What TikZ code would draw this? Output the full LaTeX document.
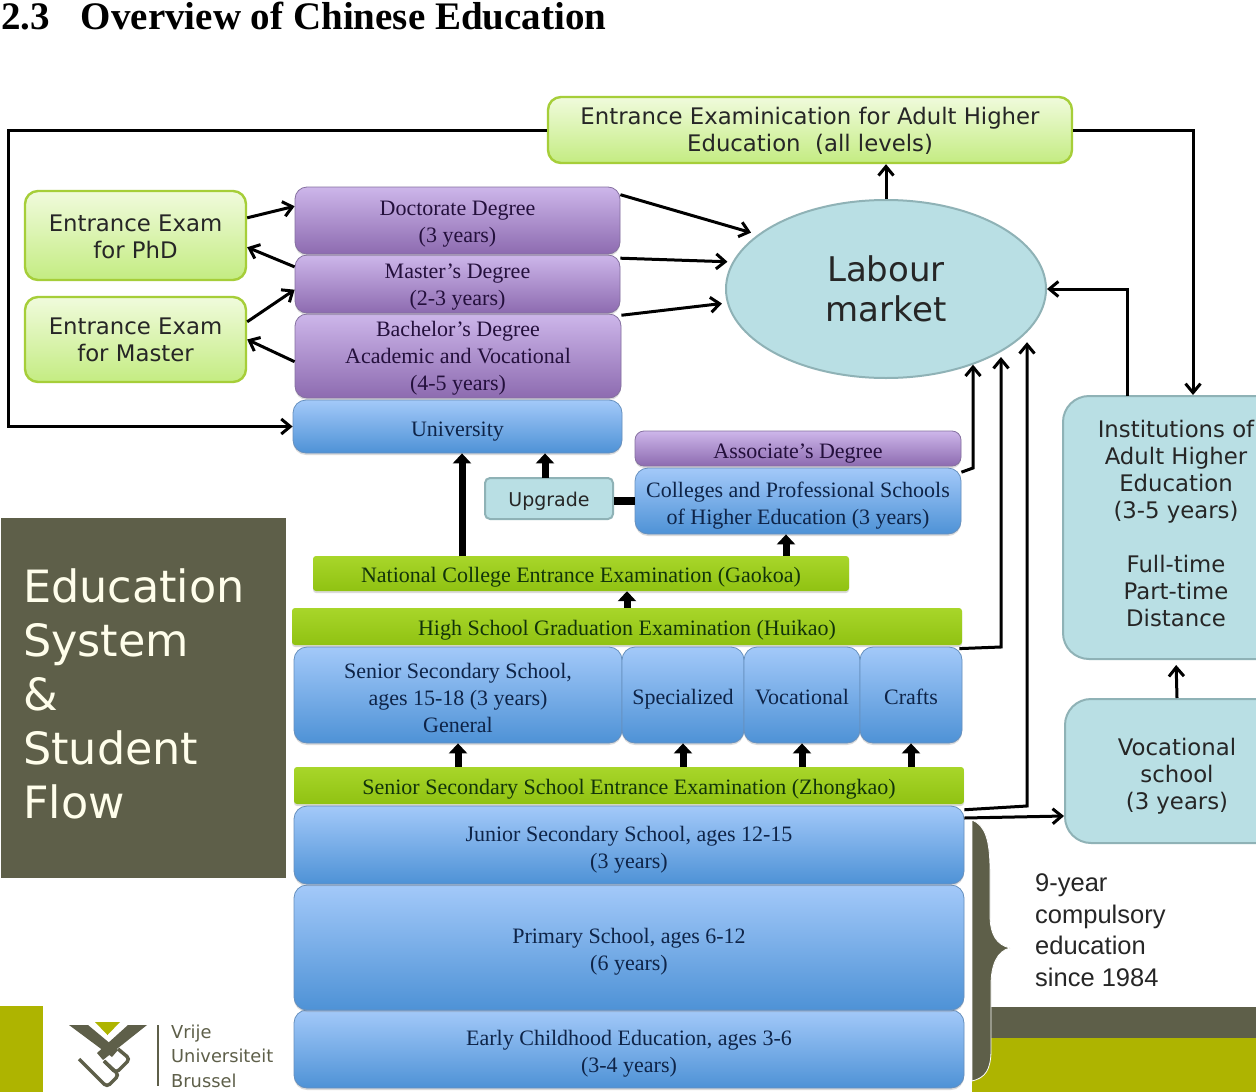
\documentclass[tikz,border=0pt]{standalone}
\usepackage{fontspec}
\setmainfont{Liberation Serif}
\newfontfamily\boxfont{DejaVu Sans}
\newfontfamily\notefont{Liberation Sans}
\usetikzlibrary{arrows.meta, positioning, shapes.geometric, shadows, calc}
\definecolor{panelgrey}{HTML}{5E5F49}
\definecolor{vuolive}{HTML}{AEB400}
\definecolor{tealfill}{HTML}{B9DFE4}
\definecolor{tealline}{HTML}{8FB2B6}
\definecolor{navytext}{HTML}{0E2448}
\definecolor{plumtext}{HTML}{24103C}
\definecolor{leaftext}{HTML}{12340A}
\definecolor{bluetop}{HTML}{A3C9F9}
\definecolor{bluebottom}{HTML}{4E92D6}
\definecolor{blueedge}{HTML}{6690BE}
\definecolor{plumtop}{HTML}{CDB6EA}
\definecolor{plumbottom}{HTML}{8D6BB0}
\definecolor{plumedge}{HTML}{8570A0}
\definecolor{leaftop}{HTML}{A8D62A}
\definecolor{leafbottom}{HTML}{90C212}
\definecolor{examtop}{HTML}{F0FBDC}
\definecolor{exambottom}{HTML}{C4EC82}
\definecolor{examedge}{HTML}{A6CE39}
\def\textrise{0pt}
\newcommand\linedrop{\rule{0pt}{\textrise}}
\tikzset{
  textrise/.code={\def\textrise{#1pt}},
  sized/.style 2 args={minimum width=#1pt,minimum height=#2pt,inner sep=0pt,align=center},
  softshadow/.style={drop shadow={opacity=.28,shadow xshift=0pt,shadow yshift=-2pt}},
  bluebox/.style={rectangle,rounded corners=13pt,draw=blueedge,line width=.8pt,top color=bluetop,bottom color=bluebottom,
    text=navytext,softshadow,textrise=24,font=\fontsize{22}{27}\selectfont},
  purplebox/.style={rectangle,rounded corners=12pt,draw=plumedge,line width=.8pt,top color=plumtop,bottom color=plumbottom,
    text=plumtext,softshadow,textrise=20,font=\fontsize{22}{27}\selectfont},
  leafbar/.style={rectangle,rounded corners=3pt,draw=none,top color=leaftop,bottom color=leafbottom,
    text=leaftext,softshadow,textrise=23,font=\fontsize{22}{27}\selectfont},
  exambox/.style={rectangle,rounded corners=13pt,draw=examedge,line width=2.4pt,top color=examtop,bottom color=exambottom,
    text=black!85,font=\boxfont\fontsize{22.8}{27}\selectfont},
  tealbox/.style={rectangle,rounded corners=#1,draw=tealline,line width=2pt,fill=tealfill,
    text=black!85,font=\boxfont\fontsize{22.8}{27}\selectfont},
  tealbox/.default=26pt,
  line/.style={line width=3pt,-{Straight Barb[length=9pt,width=15pt]}},
  blockarrow/.style={line width=7pt,-{Triangle[length=10pt,width=18pt]}}
}
\begin{document}
\begin{tikzpicture}[x=1pt,y=-1pt]
\path[use as bounding box,clip] (0,0) rectangle (1256,1092);
\fill[white] (0,0) rectangle (1256,1092);
\node[anchor=base west,inner sep=0pt,font=\bfseries\fontsize{39}{42}\selectfont] (title) at (1,29) {2.3\hspace{31pt}Overview of Chinese Education};
\fill[vuolive] (0,1006) rectangle (43,1092);
\fill[panelgrey] (990,1007) rectangle (1256,1038);
\fill[vuolive] (972,1038) rectangle (1256,1092);
\node[rectangle,fill=panelgrey,sized={285}{360}] (panel) at (143.5,698) {};
\node[anchor=west,inner sep=0pt,align=left,text=white!92!yellow,font=\boxfont\fontsize{44.5}{54}\selectfont] (paneltext) at (23,694) {Education\\System\\\&\\Student\\Flow};
\fill[panelgrey] (69,1025) -- (88,1025) -- (118,1050) -- (112,1057) -- cycle;
\fill[panelgrey] (147,1025) -- (128,1025) -- (97,1053) -- (103,1060) -- cycle;
\fill[vuolive] (95,1022) -- (120,1022) -- (107.5,1035) -- cycle;
\draw[panelgrey,line width=3.5pt,rounded corners=4pt] (118,1049) -- (130,1059) -- (116,1073) -- (104,1061);
\draw[panelgrey,line width=3.5pt,rounded corners=4pt] (104,1061) -- (119,1075) -- (107,1087) -- (79,1059);
\draw[panelgrey,line width=1.2pt] (158,1025) -- (158,1086);
\node[anchor=west,inner sep=0pt,text=panelgrey,font=\boxfont\fontsize{17.8}{24.5}\selectfont,align=left] (vubname) at (171,1056) {Vrije\\Universiteit\\Brussel};
\draw[white,line width=.8pt,fill=panelgrey] (972,820) .. controls (985,825) and (990,840) .. (990,870) -- (990,915) .. controls (990,935) and (997,945) .. (1010,948) .. controls (997,951) and (991,965) .. (991,985) -- (991,1050) .. controls (991,1070) and (985,1078) .. (972,1081) -- cycle;
\node[anchor=west,inner sep=0pt,align=left,text=black!85,font=\notefont\fontsize{25.5}{31.5}\selectfont] (compulsory) at (1035,930) {9-year\\compulsory\\education\\since 1984};
\node[exambox,textrise=20,sized={524}{66}] (examtop) at (810,130) {\linedrop Entrance Examinication for Adult Higher\\Education\ \ (all levels)};
\node[exambox,textrise=19,sized={221}{89}] (examphd) at (135.5,235.5) {\linedrop Entrance Exam\\for PhD};
\node[exambox,sized={221}{85}] (exammaster) at (135.5,339.5) {Entrance Exam\\for Master};
\node[bluebox,sized={329}{53}] (university) at (457.5,426.5) {\linedrop University};
\node[purplebox,sized={326}{84}] (bachelor) at (458,356) {\linedrop Bachelor's Degree\\Academic and Vocational\\(4-5 years)};
\node[purplebox,sized={325}{58}] (masterdeg) at (457.5,284) {\linedrop Master's Degree\\(2-3 years)};
\node[purplebox,textrise=21,sized={325}{67}] (doctorate) at (457.5,220.5) {\linedrop Doctorate Degree\\(3 years)};
\node[ellipse,draw=tealline,line width=2pt,fill=tealfill,sized={320}{178},text=black!85,font=\boxfont\fontsize{34}{40}\selectfont] (labour) at (886,289) {Labour\\market};
\node[bluebox,sized={326}{66}] (colleges) at (798,501) {\linedrop Colleges and Professional Schools\\of Higher Education (3 years)};
\node[purplebox,textrise=25,rounded corners=9pt,sized={326}{35}] (associate) at (798,448.5) {\linedrop Associate's Degree};
\node[tealbox=5pt,textrise=19,sized={128}{41},font=\boxfont\fontsize{19}{24}\selectfont] (upgrade) at (549,498.5) {\linedrop Upgrade};
\node[leafbar,sized={536}{35}] (gaokao) at (581,573.5) {\linedrop National College Entrance Examination (Gaokoa)};
\node[bluebox,textrise=21,sized={328}{96}] (senior) at (458,695) {\linedrop Senior Secondary School,\\ages 15-18 (3 years)\\General};
\node[bluebox,sized={122}{96}] (specialized) at (683,695) {\linedrop Specialized};
\node[bluebox,textrise=20,sized={116}{96}] (vocational) at (802,695) {\linedrop Vocational};
\node[bluebox,textrise=20,sized={102}{96}] (crafts) at (911,695) {\linedrop Crafts};
\node[leafbar,sized={670}{37}] (huikao) at (627,626.5) {\linedrop High School Graduation Examination (Huikao)};
\node[bluebox,sized={670}{78}] (early) at (629,1049) {\linedrop Early Childhood Education, ages 3-6\\(3-4 years)};
\node[bluebox,sized={670}{125}] (primary) at (629,947.5) {\linedrop Primary School, ages 6-12\\(6 years)};
\node[bluebox,sized={670}{78}] (junior) at (629,845) {\linedrop Junior Secondary School, ages 12-15\\(3 years)};
\node[leafbar,sized={670}{37}] (zhongkao) at (629,785.5) {\linedrop Senior Secondary School Entrance Examination (Zhongkao)};
\node[tealbox,sized={226}{263}] (institutions) at (1176,527.5) {Institutions of\\Adult Higher\\Education\\(3-5 years)\\~\\Full-time\\Part-time\\Distance\rule[-9pt]{0pt}{9pt}};
\node[tealbox,textrise=27,sized={224}{144}] (vocschool) at (1177,771) {\linedrop Vocational\\school\\(3 years)};
\coordinate (leftrail) at (8,130);
\coordinate (rightrail) at (1193,130);
\coordinate (instout) at (1127,396);
\coordinate (collegeturn) at (973,468);
\coordinate (seniorturn) at (1001,647);
\coordinate (juniorturn) at (1027,806);
\coordinate (mainup) at (462,556);
\coordinate (upgradeup) at (545,478);
\coordinate (collegeup) at (786,556);
\draw[line] (examphd.9) -- (doctorate.175);
\draw[line] (masterdeg.174) -- (examphd.-6);
\draw[line] (exammaster.9) -- (masterdeg.182);
\draw[line] (bachelor.182) -- (exammaster.east);
\draw[line,shorten >=7pt] (doctorate.9) -- (labour.157);
\draw[line,shorten >=5pt] (masterdeg.9) -- (labour.170);
\draw[line,shorten >=5pt] (bachelor.14) -- (labour.185);
\draw[line] (examtop.west) -- (leftrail) |- (university.west);
\draw[line] (examtop.east) -- (rightrail) -- (rightrail |- institutions.north);
\draw[line] (labour.north) -- (labour.north |- examtop.south);
\draw[line] (instout) |- (labour.east);
\draw[line,shorten >=5pt] (vocschool.north) -- (institutions.south);
\draw[line] (colleges.10) -- (collegeturn) -- (collegeturn |- labour.-41);
\draw[line,shorten >=6pt] (crafts.north east) ++(-3,2) -- (seniorturn) -- (seniorturn |- labour.-28);
\draw[line,shorten >=10pt] (junior.6) -- (juniorturn) -- (juniorturn |- labour.-17);
\draw[line] (junior.east |- 0,818) -- (vocschool.west |- 0,816);
\draw[blockarrow] (mainup) -- (mainup |- university.south);
\draw[blockarrow] (upgradeup) -- (upgradeup |- university.south);
\draw[line width=8pt] (colleges.west) -- (upgrade.east |- colleges.west);
\draw[blockarrow] (collegeup) -- (collegeup |- colleges.south);
\draw[blockarrow] (huikao.north) -- (huikao.north |- gaokao.south);
\foreach \tgt in {senior,specialized,vocational,crafts}
  \draw[blockarrow] (zhongkao.north -| \tgt.south) -- (\tgt.south);
\end{tikzpicture}
\end{document}
